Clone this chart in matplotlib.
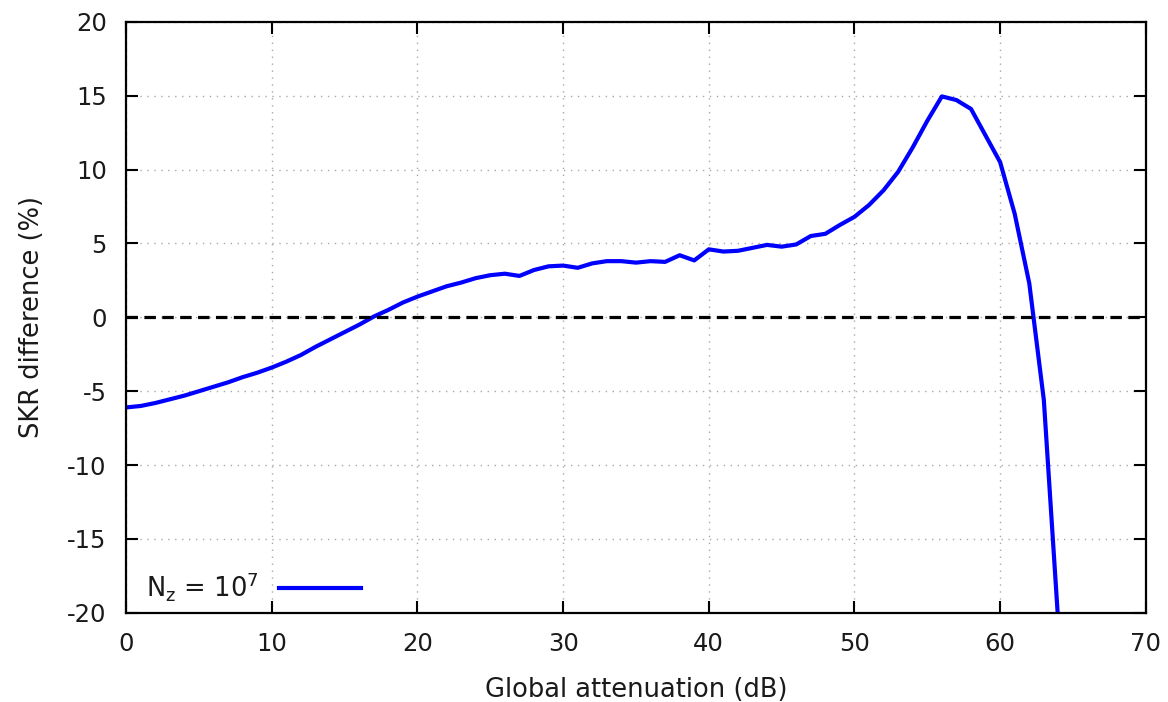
import numpy as np
import matplotlib
matplotlib.use("Agg")
import matplotlib.pyplot as plt

# attenuation (dB) and SKR difference (%)
attenuation = np.arange(0, 65)
skr_diff = [
    -6.1, -6.0, -5.8, -5.55, -5.3, -5.0, -4.7, -4.4, -4.05, -3.75,
    -3.4, -3.0, -2.55, -2.0, -1.5, -1.0, -0.5, 0.05, 0.5, 1.0,
    1.4, 1.75, 2.1, 2.35, 2.65, 2.85, 2.95, 2.8, 3.2, 3.45,
    3.5, 3.35, 3.65, 3.8, 3.8, 3.7, 3.8, 3.75, 4.2, 3.85,
    4.6, 4.45, 4.5, 4.7, 4.9, 4.78, 4.93, 5.5, 5.65, 6.25,
    6.8, 7.6, 8.6, 9.85, 11.5, 13.3, 14.95, 14.7, 14.1, 12.3,
    10.5, 7.0, 2.3, -5.6, -20.8,
]
x_ticks = list(range(0, 71, 10))
y_ticks = list(range(-20, 21, 5))

plt.rcParams['font.family'] = ['DejaVu Sans']
plt.rcParams['axes.unicode_minus'] = False  # gnuplot style hyphen minus
plt.rcParams['mathtext.fontset'] = 'dejavusans'

fig, ax = plt.subplots(figsize=(11.68, 7.02), dpi=100)
fig.subplots_adjust(left=0.108, right=0.981, top=0.969, bottom=0.127)

ax.plot(attenuation, skr_diff, color="#0000ff", lw=3.0,
        label=r"N$_\mathregular{z}$ = 10$^\mathregular{7}$")
ax.axhline(0, color="black", lw=2.3, ls=(0, (3.6, 2.0)), zorder=3)

ax.set_xlim(0, 70)
ax.set_ylim(-20, 20)
ax.set_xticks(x_ticks)
ax.set_yticks(y_ticks)
ax.grid(True, color="#a8a8a8", ls=(0, (1, 4)), lw=1.0)

ax.tick_params(direction="in", length=8.5, width=1.5, top=True, right=True,
               labelsize=17.5, pad=14, labelcolor="#1a1a1a")
for s in ax.spines.values():
    s.set_linewidth(1.6)

ax.set_xlabel("Global attenuation (dB)", fontsize=18.5, color="#1a1a1a", labelpad=15)
ax.set_ylabel("SKR difference (%)", fontsize=18.5, color="#1a1a1a", labelpad=16)

leg = ax.legend(loc="lower left", frameon=False, fontsize=18.5, markerfirst=False,
                handlelength=3.2, borderaxespad=0.36, handletextpad=0.8,
                bbox_to_anchor=(0.0, -0.017))
for t in leg.get_texts():
    t.set_color("#1a1a1a")

fig.savefig("out.png", dpi=100)
